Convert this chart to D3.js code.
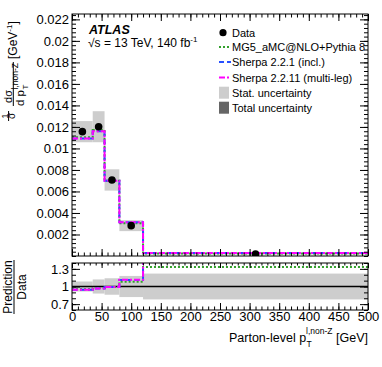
<!DOCTYPE html>
<html>
<head>
<meta charset="utf-8">
<script src="https://cdn.jsdelivr.net/npm/d3@7"></script>
<style>
  body { margin: 0; background: #fff; }
  svg { font-family: "Liberation Sans", Arial, sans-serif; }
</style>
</head>
<body>
<script>
/* Data
***********************************************************************/
var binEdges = [0, 35, 55, 80, 120, 500];
var dataVals = [0.01156, 0.01202, 0.00707, 0.00282, 0.00017];
var relUnc = [0.085, 0.12, 0.14, 0.18, 0.22]; // total, relative
var ratioMG5 = [0.955, 0.975, 0.99, 1.08, 1.33];
var ratioSh221 = [0.945, 0.965, 0.99, 1.11, 1.6];
var ratioSh2211 = [0.945, 0.965, 0.99, 1.115, 1.62];

var xTicks = [0, 50, 100, 150, 200, 250, 300, 350, 400, 450, 500];
var yTicks = [0.002, 0.004, 0.006, 0.008, 0.01, 0.012, 0.014, 0.016, 0.018, 0.02, 0.022];
var rTicks = [0.7, 1, 1.3];

var legendNames = ["Data", "MG5_aMC@NLO+Pythia 8", "Sherpa 2.2.1 (incl.)",
  "Sherpa 2.2.11 (multi-leg)", "Stat. uncertainty", "Total uncertainty"];

/* Setup
***********************************************************************/
var W = 382, H = 367;
var svg = d3.select("body").append("svg").attr("width", W).attr("height", H);

var xScale = d3.scaleLinear().domain([0, 500]).range([72, 368]);
var yScale = d3.scaleLinear().domain([0, 0.0225]).range([256, 14]);
var rScale = d3.scaleLinear().domain([0.6, 1.4]).range([310, 263]);

var models = [
  {ratio: ratioMG5, color: "#33a02c", dash: "2,2"},
  {ratio: ratioSh221, color: "#2850ff", dash: "5,3"},
  {ratio: ratioSh2211, color: "#ff00ff", dash: "6,2,2,2"}
];

var bins = dataVals.map(function(v, i) {
  return {lo: binEdges[i], hi: binEdges[i + 1], val: v, unc: relUnc[i]};
});

// clip paths
var defs = svg.append("defs");
defs.append("clipPath").attr("id", "clipMain").append("rect")
  .attr("x", 72).attr("y", 14).attr("width", 296).attr("height", 242);
defs.append("clipPath").attr("id", "clipRatio").append("rect")
  .attr("x", 72).attr("y", 263).attr("width", 296).attr("height", 47);

function stepPoints(vals, yS) {
  var pts = [];
  vals.forEach(function(v, i) {
    pts.push([xScale(binEdges[i]), yS(v)]);
    pts.push([xScale(binEdges[i + 1]), yS(v)]);
  });
  return pts;
}
var line = d3.line();

/* Main panel
***********************************************************************/
var mainG = svg.append("g").attr("clip-path", "url(#clipMain)");

mainG.selectAll("rect.band").data(bins).enter().append("rect")
  .attr("x", function(d) { return xScale(d.lo); })
  .attr("width", function(d) { return xScale(d.hi) - xScale(d.lo); })
  .attr("y", function(d) { return yScale(d.val * (1 + d.unc)); })
  .attr("height", function(d) { return yScale(d.val * (1 - d.unc)) - yScale(d.val * (1 + d.unc)); })
  .attr("fill", "#cdcdcd");

models.forEach(function(m) {
  var vals = dataVals.map(function(v, i) { return v * m.ratio[i]; });
  mainG.append("path")
    .attr("d", line(stepPoints(vals, yScale)))
    .attr("fill", "none")
    .attr("stroke", m.color)
    .attr("stroke-width", 2)
    .attr("stroke-dasharray", m.dash);
});

mainG.selectAll("circle.pt").data(bins).enter().append("circle")
  .attr("cx", function(d) { return xScale((d.lo + d.hi) / 2); })
  .attr("cy", function(d) { return yScale(d.val); })
  .attr("r", 3.8)
  .attr("fill", "#000");

/* Ratio panel
***********************************************************************/
var ratioG = svg.append("g").attr("clip-path", "url(#clipRatio)");

ratioG.selectAll("rect.band").data(bins).enter().append("rect")
  .attr("x", function(d) { return xScale(d.lo); })
  .attr("width", function(d) { return xScale(d.hi) - xScale(d.lo); })
  .attr("y", function(d) { return rScale(1 + d.unc); })
  .attr("height", function(d) { return rScale(1 - d.unc) - rScale(1 + d.unc); })
  .attr("fill", "#cdcdcd");

ratioG.append("line")
  .attr("x1", 72).attr("x2", 368)
  .attr("y1", rScale(1)).attr("y2", rScale(1))
  .attr("stroke", "#000").attr("stroke-width", 1.5);

models.forEach(function(m) {
  ratioG.append("path")
    .attr("d", line(stepPoints(m.ratio, rScale)))
    .attr("fill", "none")
    .attr("stroke", m.color)
    .attr("stroke-width", 2)
    .attr("stroke-dasharray", m.dash);
});

/* Axes, ticks, frames
***********************************************************************/
function minorRange(a, b, step) {
  return d3.range(Math.round(a / step), Math.round(b / step) + 1).map(function(k) { return k * step; });
}
function drawAxis(axis, tx, ty) {
  var g = svg.append("g").attr("transform", "translate(" + tx + "," + ty + ")").call(axis);
  g.select(".domain").remove();
  g.selectAll("text").attr("font-size", 13).attr("font-family", "Liberation Sans, Arial, sans-serif").attr("fill", "#000");
  return g;
}
var yFmt = function(v) { return String(+v.toFixed(4)); };
var blank = function() { return ""; };

// main panel
drawAxis(d3.axisLeft(yScale).tickValues(yTicks).tickSize(-8).tickPadding(3).tickFormat(yFmt), 72, 0);
drawAxis(d3.axisLeft(yScale).tickValues(minorRange(0, 0.0224, 0.0004)).tickSize(-4).tickFormat(blank), 72, 0);
drawAxis(d3.axisRight(yScale).tickValues(yTicks).tickSize(-8).tickFormat(blank), 368, 0);
drawAxis(d3.axisRight(yScale).tickValues(minorRange(0, 0.0224, 0.0004)).tickSize(-4).tickFormat(blank), 368, 0);
drawAxis(d3.axisBottom(xScale).tickValues(xTicks).tickSize(-7).tickFormat(blank), 0, 256);
drawAxis(d3.axisBottom(xScale).tickValues(minorRange(0, 500, 10)).tickSize(-3.5).tickFormat(blank), 0, 256);
drawAxis(d3.axisTop(xScale).tickValues(xTicks).tickSize(-7).tickFormat(blank), 0, 14);
drawAxis(d3.axisTop(xScale).tickValues(minorRange(0, 500, 10)).tickSize(-3.5).tickFormat(blank), 0, 14);

// ratio panel
drawAxis(d3.axisLeft(rScale).tickValues(rTicks).tickSize(-8).tickPadding(3).tickFormat(function(v) { return String(v); }), 72, 0);
drawAxis(d3.axisLeft(rScale).tickValues(minorRange(0.6, 1.4, 0.1)).tickSize(-4).tickFormat(blank), 72, 0);
drawAxis(d3.axisRight(rScale).tickValues(rTicks).tickSize(-8).tickFormat(blank), 368, 0);
drawAxis(d3.axisRight(rScale).tickValues(minorRange(0.6, 1.4, 0.1)).tickSize(-4).tickFormat(blank), 368, 0);
drawAxis(d3.axisBottom(xScale).tickValues(xTicks).tickSize(-7).tickPadding(2).tickFormat(function(v) { return String(v); }), 0, 310);
drawAxis(d3.axisBottom(xScale).tickValues(minorRange(0, 500, 10)).tickSize(-3.5).tickFormat(blank), 0, 310);
drawAxis(d3.axisTop(xScale).tickValues(xTicks).tickSize(-5).tickFormat(blank), 0, 263);
drawAxis(d3.axisTop(xScale).tickValues(minorRange(0, 500, 10)).tickSize(-2.5).tickFormat(blank), 0, 263);

svg.selectAll(".tick line").attr("stroke", "#000");

svg.append("rect").attr("x", 72).attr("y", 14).attr("width", 296).attr("height", 242)
  .attr("fill", "none").attr("stroke", "#000").attr("stroke-width", 1);
svg.append("rect").attr("x", 72).attr("y", 263).attr("width", 296).attr("height", 47)
  .attr("fill", "none").attr("stroke", "#000").attr("stroke-width", 1);

/* Labels
***********************************************************************/
svg.append("text").attr("x", 89).attr("y", 34)
  .attr("font-size", 12.5).attr("font-weight", "bold").attr("font-style", "italic")
  .text("ATLAS");
var sq = svg.append("text").attr("x", 88).attr("y", 47).attr("font-size", 12);
sq.append("tspan").text("\u221As = 13 TeV, 140 fb");
sq.append("tspan").attr("font-size", 8).attr("dy", -5).text("-1");

// x axis title
var xt = svg.append("text").attr("x", 368).attr("y", 342).attr("font-size", 12.5)
  .attr("text-anchor", "end");
xt.append("tspan").text("Parton-level p");
xt.append("tspan").attr("font-size", 8.5).attr("dy", -8).text("l,non-Z");
xt.append("tspan").attr("font-size", 12.5).attr("dy", 8).text(" [GeV]");
// subscript T placed under the superscript
(function() {
  var parts = xt.selectAll("tspan").nodes();
  var xs = 368 - parts[2].getComputedTextLength() - parts[1].getComputedTextLength();
  svg.append("text").attr("x", xs + 0.5).attr("y", 347).attr("font-size", 8.5).text("T");
})();

// y axis title (rotated)
var yl = svg.append("g").attr("transform", "rotate(-90)").attr("font-size", 11.5);
yl.append("text").attr("x", -116).attr("y", 7.6).attr("font-size", 9.5).attr("text-anchor", "middle").text("1");
yl.append("line").attr("x1", -121).attr("x2", -111).attr("y1", 8.6).attr("y2", 8.6).attr("stroke", "#000");
yl.append("text").attr("x", -116).attr("y", 14.5).attr("font-size", 10).attr("text-anchor", "middle").text("\u03C3");
yl.append("text").attr("x", -96.5).attr("y", 11.5).attr("font-size", 11).attr("text-anchor", "middle").text("d\u03C3");
yl.append("line").attr("x1", -106).attr("x2", -62).attr("y1", 13.3).attr("y2", 13.3).attr("stroke", "#000");
yl.append("text").attr("x", -106).attr("y", 23.5).text("d p");
yl.append("text").attr("x", -89.5).attr("y", 27.5).attr("font-size", 8).text("T");
yl.append("text").attr("x", -89.5).attr("y", 18).attr("font-size", 8.5).text("l,non-Z");
var gev = yl.append("text").attr("x", -59).attr("y", 16.5).attr("font-size", 12);
gev.append("tspan").text("[GeV");
gev.append("tspan").attr("font-size", 8).attr("dy", -5).text("-1");
gev.append("tspan").attr("dy", 5).text("]");

// ratio y title
var rl = svg.append("g").attr("transform", "rotate(-90)").attr("font-size", 12);
rl.append("text").attr("x", -287).attr("y", 12).attr("text-anchor", "middle").text("Prediction");
rl.append("line").attr("x1", -314).attr("x2", -260).attr("y1", 14).attr("y2", 14).attr("stroke", "#000");
rl.append("text").attr("x", -287).attr("y", 25.5).attr("text-anchor", "middle").text("Data");

/* Legend
***********************************************************************/
var legY = [32.7, 47, 62, 77.5, 92.7, 107.7];
var leg = svg.append("g").attr("font-size", 11);
legendNames.forEach(function(name, i) {
  var y = legY[i];
  if (i === 0) {
    leg.append("circle").attr("cx", 223).attr("cy", y).attr("r", 3.6).attr("fill", "#000");
  } else if (i <= 3) {
    var m = models[i - 1];
    leg.append("line").attr("x1", 219).attr("x2", 231).attr("y1", y).attr("y2", y)
      .attr("stroke", m.color).attr("stroke-width", 2).attr("stroke-dasharray", m.dash);
  } else {
    leg.append("rect").attr("x", 219).attr("y", y - 6).attr("width", 10).attr("height", 12)
      .attr("fill", i === 4 ? "#cdcdcd" : "#666666");
  }
  leg.append("text").attr("x", 232).attr("y", y + 4).text(name);
});
</script>
</body>
</html>
